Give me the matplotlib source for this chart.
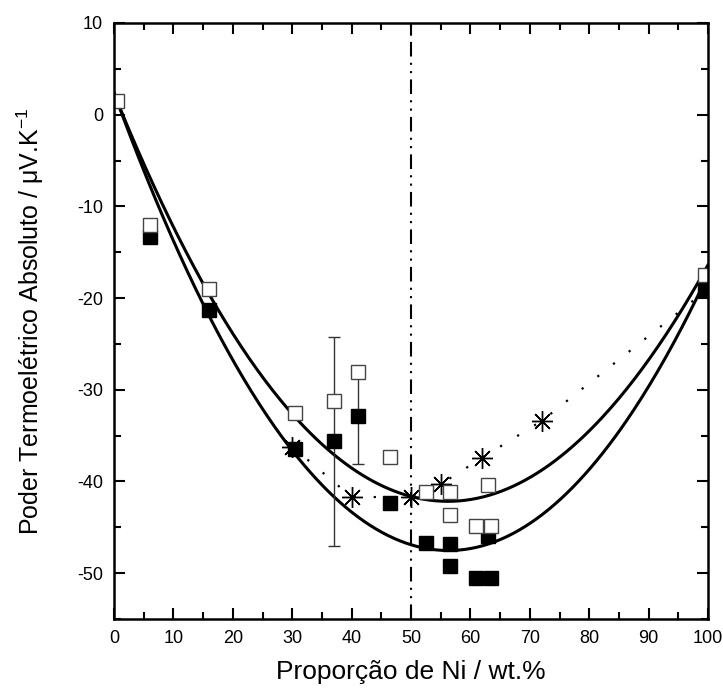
import numpy as np
import matplotlib
matplotlib.use("Agg")
import matplotlib.pyplot as plt

plt.rcParams["font.family"] = ["Liberation Sans", "DejaVu Sans"]
plt.rcParams["axes.unicode_minus"] = False
plt.rcParams["mathtext.fontset"] = "custom"
plt.rcParams["mathtext.rm"] = "Liberation Sans"
plt.rcParams["mathtext.it"] = "Liberation Sans:italic"

# open squares
ni_open = [0.5, 6, 16, 30.5, 37, 41, 46.5, 52.5, 56.5, 56.5, 61, 63, 63.5, 99.5]
pt_open = [1.5, -12.0, -19.0, -32.5, -31.2, -28.1, -37.3, -41.2, -41.2, -43.7, -44.9, -40.4, -44.9, -17.5]

# filled squares
ni_full = [6, 16, 30.5, 37, 41, 46.5, 52.5, 56.5, 56.5, 61, 63, 63.5, 99.5]
pt_full = [-13.3, -21.3, -36.5, -35.6, -32.9, -42.4, -46.7, -46.8, -49.2, -50.5, -46.0, -50.5, -19.0]

# error bars
ni_err = [37, 41]
pt_err = [-35.6, -33.0]
err = [11.4, 5.1]

# asterisks (dotted line)
ni_ast = [30, 40, 50, 55, 62, 72, 100]
pt_ast = [-36.2, -41.7, -41.7, -40.3, -37.4, -33.4, -19.0]

# fitted curves, points
ni_fit_up = [0, 19.5, 26.3, 50, 57.7, 73.4, 85.7, 99.8]
pt_fit_up = [2.2, -23.1, -29.7, -41.7, -42.4, -38.4, -29.7, -16.9]
ni_fit_lo = [0, 17.3, 26.3, 39.2, 56, 81, 88.6, 100]
pt_fit_lo = [2.2, -23.1, -33.3, -43.1, -47.8, -38.6, -29.7, -18.0]

fig = plt.figure(figsize=(7.23, 6.91), dpi=100)
ax = fig.add_axes([114 / 723, 1 - 619 / 691, 594 / 723, 596 / 691])

xx = np.linspace(0, 100, 300)
ax.plot(xx, np.polyval(np.polyfit(ni_fit_up, pt_fit_up, 3), xx), color="black", lw=2.2)
ax.plot(xx, np.polyval(np.polyfit(ni_fit_lo, pt_fit_lo, 3), xx), color="black", lw=2.2)

ax.errorbar(ni_err, pt_err, yerr=err, fmt="none", ecolor="#333333", elinewidth=1, capsize=4, capthick=1)

ax.plot(ni_ast, pt_ast, linestyle=(0, (1, 8)), color="black", lw=1.6,
        marker=(8, 2, 0), markersize=15, markeredgewidth=1, markerfacecolor="none",
        markeredgecolor="black")

ax.plot(ni_full, pt_full, "s", color="black", markersize=10, linestyle="none")
ax.plot(ni_open, pt_open, "s", markerfacecolor="white", markeredgecolor="#444444",
        markersize=10, markeredgewidth=1, linestyle="none")

ax.axvline(50, color="black", lw=1.5, linestyle=(0, (7, 3, 1, 3, 1, 3)))

ax.set_xlim(0, 100)
ax.set_ylim(-55, 10)
ax.set_xticks(np.arange(0, 101, 10))
ax.set_xticks(np.arange(0, 101, 5), minor=True)
ax.set_yticks(np.arange(-50, 11, 10))
ax.set_yticks(np.arange(-55, 11, 5), minor=True)
ax.tick_params(which="both", direction="in", top=True, right=True, width=1.5, labelsize=13)
ax.tick_params(which="major", length=8, pad=8)
ax.tick_params(which="minor", length=5)
for s in ax.spines.values():
    s.set_linewidth(1.8)

ax.set_xlabel("Proporção de Ni / wt.%", fontsize=19)
ax.set_ylabel("Poder Termoelétrico Absoluto / μV.K$^{-1}$", fontsize=18)
ax.xaxis.set_label_coords(0.5, -0.068)
ax.yaxis.set_label_coords(-0.115, 0.5)

fig.savefig("out.png", dpi=100)
